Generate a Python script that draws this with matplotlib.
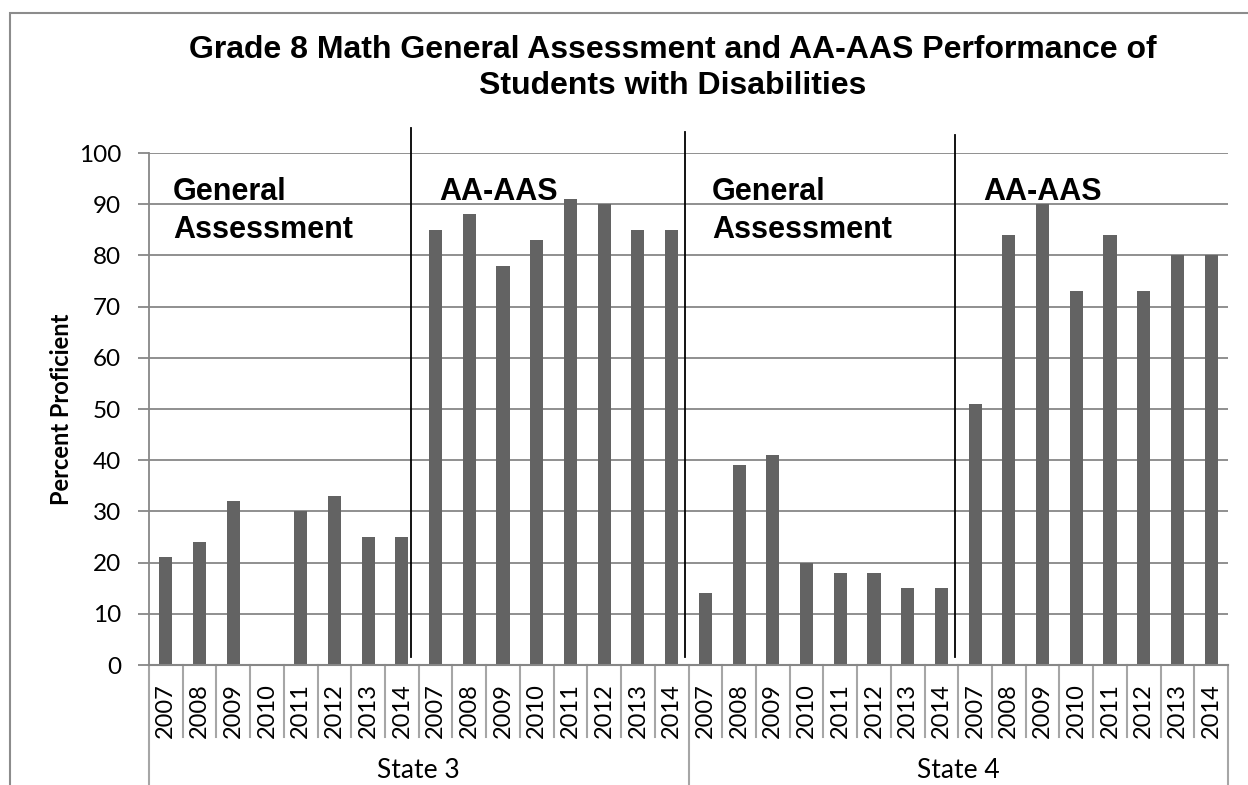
import numpy as np
import matplotlib.pyplot as plt
from matplotlib.lines import Line2D
from matplotlib.patches import Rectangle

# data
years = ['2007', '2008', '2009', '2010', '2011', '2012', '2013', '2014']
states = ['State 3', 'State 4']
state3_general = [21, 24, 32, 0, 30, 33, 25, 25]   # 2010 has no bar
state3_aaas = [85, 88, 78, 83, 91, 90, 85, 85]
state4_general = [14, 39, 41, 20, 18, 18, 15, 15]
state4_aaas = [51, 84, 90, 73, 84, 73, 80, 80]

values = state3_general + state3_aaas + state4_general + state4_aaas
labels = years * 4
x = np.arange(len(values))

W, H = 1248, 785
fig = plt.figure(figsize=(W / 100, H / 100), dpi=100)
fig.patches.append(Rectangle((10 / W, -0.05), 1.1, 1 - 13 / H + 0.05, transform=fig.transFigure,
                             fill=False, edgecolor='#8c8c8c', linewidth=1.5))

L, R, T, B = 149, 1228, 153, 665
ax = fig.add_axes([L / W, 1 - B / H, (R - L) / W, (B - T) / H])

ax.bar(x, values, width=0.39, color='#636363', zorder=3)
ax.set_xlim(-0.5, len(values) - 0.5)
ax.set_ylim(0, 100)
ax.set_yticks(range(0, 101, 10))
ax.yaxis.grid(True, color='#878787', linewidth=1.3, zorder=0)
ax.tick_params(axis='y', length=8, width=1.3, color='#878787', pad=12, labelsize=17.5)
for lab in ax.get_yticklabels():
    lab.set_family('Lato')

for s in ['top', 'right', 'bottom']:
    ax.spines[s].set_visible(False)
ax.spines['left'].set_color('#878787')
ax.spines['left'].set_linewidth(1.3)

ax.set_xticks(x)
ax.set_xticklabels(labels, rotation=90, fontsize=17, family='Lato')
ax.tick_params(axis='x', length=0, pad=13)

# category table below the axis
cell_h = (737 - B) / (B - T)
grp_h = (H + 20 - B) / (B - T)
ax.add_line(Line2D([0, 1], [0, 0], transform=ax.transAxes, color='#878787',
                   linewidth=1.5, clip_on=False, zorder=4))
n = len(values)
for i in range(n + 1):
    xf = i / n
    h = grp_h if i % 16 == 0 else cell_h
    ax.add_line(Line2D([xf, xf], [0, -h], transform=ax.transAxes, color='#a6a6a6',
                       linewidth=1.5, clip_on=False))
for k, st in enumerate(states):
    ax.text((k * 16 + 8) / n, -(771 - B) / (B - T), st, transform=ax.transAxes,
            ha='center', va='center', fontsize=19, family='Lato')

ax.set_ylabel('Percent Proficient', fontsize=17, family='Lato', fontweight='bold', labelpad=4)

# section dividers and labels
dividers = [(411, 128), (685, 132), (955, 135)]
for px, top in dividers:
    xf = (px - L) / (R - L)
    ax.add_line(Line2D([xf, xf], [(B - 657) / (B - T), (B - top) / (B - T)], transform=ax.transAxes,
                       color='black', linewidth=1.3, clip_on=False, zorder=5))

section_text = [(173, 'General\nAssessment'), (439, 'AA-AAS'), (712, 'General\nAssessment'), (983, 'AA-AAS')]
for px, txt in section_text:
    ax.text((px - L) / (R - L), (B - 177) / (B - T), txt, transform=ax.transAxes,
            ha='left', va='top', fontsize=22, fontweight='bold', family='Liberation Sans',
            linespacing=1.35, zorder=6)

fig.text(673 / W, 1 - 68 / H,
         'Grade 8 Math General Assessment and AA-AAS Performance of\nStudents with Disabilities',
         ha='center', va='center', fontsize=23, fontweight='bold', family='Liberation Sans',
         linespacing=1.25)

fig.savefig('out.png', dpi=100)
